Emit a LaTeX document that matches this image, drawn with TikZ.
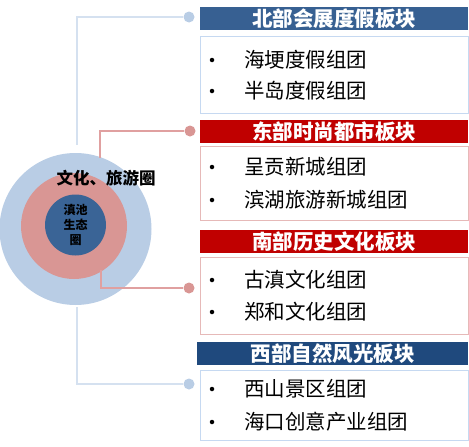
\documentclass[tikz,border=0pt]{standalone}
\usepackage{fontspec}
\setmainfont{Noto Sans CJK SC}
\begin{document}
\begin{tikzpicture}[x=1pt,y=-1pt,
  hdr/.style={draw=none,minimum width=268pt,minimum height=23pt,inner sep=0pt,text=white,font=\fontsize{20.5}{21}\selectfont\bfseries,anchor=north west},
  bx/.style={fill=white,line width=1.3pt,minimum width=268pt,inner sep=0pt,anchor=north west},
  item/.style={font=\fontsize{20.5}{21}\selectfont,anchor=west,inner sep=0pt},
  bul/.style={circle,fill=black,minimum size=4.5pt,inner sep=0pt},
  dotb/.style={circle,fill=lblue,minimum size=11pt,inner sep=0pt},
  dotr/.style={circle,fill=lred,minimum size=11pt,inner sep=0pt},
  lnb/.style={draw=lineb,line width=1.8pt},
  lnr/.style={draw=liner,line width=1.8pt}]
\definecolor{hblue}{HTML}{376092}
\definecolor{hdblue}{HTML}{1F497D}
\definecolor{hred}{HTML}{C00000}
\definecolor{lblue}{HTML}{B9CDE5}
\definecolor{lred}{HTML}{D99694}
\definecolor{bblue}{HTML}{C6D9F1}
\definecolor{bred}{HTML}{E6B9B8}
\definecolor{lineb}{HTML}{D5E1F0}
\definecolor{liner}{HTML}{E0A0A0}
\definecolor{cin}{HTML}{3A6496}
\useasboundingbox (0,0) rectangle (469,447);
% circles
\node[circle,fill=lblue,minimum size=152pt,inner sep=0pt] (outer) at (75.5,229) {};
\node[circle,fill=lred,minimum size=106pt,inner sep=0pt] (mid) at (74,226) {};
\node[circle,fill=cin,minimum size=61pt,inner sep=0pt] (inner) at (75.5,225) {};
\node[font=\fontsize{16.5}{16.5}\selectfont\bfseries,inner sep=0pt] (ring) at (106,178) {文化、旅游圈};
\node[font=\fontsize{12}{15}\selectfont\bfseries,align=center,inner sep=0pt] (core) at (75.5,225) {滇池\\生态\\圈};
% headers and boxes
\node[hdr,fill=hblue] (h1) at (200,7) {北部会展度假板块};
\node[bx,draw=bblue,minimum height=77pt] (b1) at (200,36) {};
\node[hdr,fill=hred] (h2) at (200,120) {东部时尚都市板块};
\node[bx,draw=bred,minimum height=74pt] (b2) at (200,146) {};
\node[hdr,fill=hred] (h3) at (200,230) {南部历史文化板块};
\node[bx,draw=bred,minimum height=77pt] (b3) at (200,257) {};
\node[hdr,fill=hdblue,minimum width=271pt] (h4) at (197,342) {西部自然风光板块};
\node[bx,draw=bblue,minimum height=70pt] (b4) at (200,370) {};
% items
\node[bul] (u11) at (212,60) {}; \node[item] (t11) at (244,60) {海埂度假组团};
\node[bul] (u12) at (212,91) {}; \node[item] (t12) at (244,91) {半岛度假组团};
\node[bul] (u21) at (212,167) {}; \node[item] (t21) at (244,167) {呈贡新城组团};
\node[bul] (u22) at (212,200) {}; \node[item] (t22) at (244,200) {滨湖旅游新城组团};
\node[bul] (u31) at (212,280) {}; \node[item] (t31) at (244,280) {古滇文化组团};
\node[bul] (u32) at (212,312) {}; \node[item] (t32) at (244,312) {郑和文化组团};
\node[bul] (u41) at (212,389) {}; \node[item] (t41) at (244,389) {西山景区组团};
\node[bul] (u42) at (212,422) {}; \node[item] (t42) at (244,422) {海口创意产业组团};
% connectors
\coordinate (sb1) at (77,145);
\coordinate (sr1) at (100,158);
\coordinate (sr2) at (101,270);
\coordinate (sb2) at (77,307);
\node[dotb] (d1) at (189,17) {};
\node[dotr] (d2) at (190,131) {};
\node[dotr] (d3) at (189,288) {};
\node[dotb] (d4) at (189,384) {};
\draw[lnb] (sb1) |- (d1);
\draw[lnr] (sr1) |- (d2);
\draw[lnr] (sr2) |- (d3);
\draw[lnb] (sb2) |- (d4);
\end{tikzpicture}
\end{document}
